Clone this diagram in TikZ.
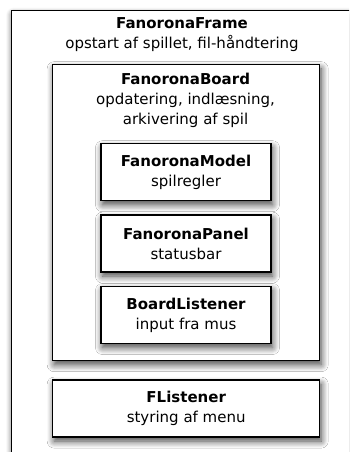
\documentclass[tikz,border=0pt]{standalone}
\usepackage{fontspec}
\setmainfont{DejaVu Sans}
\usetikzlibrary{positioning, shadows.blur}

\begin{document}
\begin{tikzpicture}[x=1pt, y=1pt,
    node distance=13pt,
    box/.style={rectangle, draw, line width=1.4pt, fill=white, align=center,
        blur shadow={shadow xshift=1.5pt, shadow yshift=-4pt, shadow blur radius=7pt, shadow opacity=75, shadow blur steps=10},
        font=\fontsize{15}{20}\selectfont},
    classbox/.style={box, minimum width=170pt, minimum height=57pt},
    title/.style={align=center, inner sep=0pt, font=\fontsize{15}{20}\selectfont}
]
    \useasboundingbox (0,0) rectangle (349,-452);
    \clip (0,0) rectangle (349,-452);

    % outer frame runs past the page
    \node[box, minimum width=342pt, minimum height=470pt, anchor=north west] (frame) at (11,-10) {};
    \node[title, anchor=north] (frametitle) at (182,-17) {\textbf{FanoronaFrame}\\opstart af spillet, fil-håndtering};

    \node[box, minimum width=267pt, minimum height=296pt, anchor=north west] (board) at (52,-64) {};
    \node[title, anchor=north] (boardtitle) at (185.5,-72.5) {\textbf{FanoronaBoard}\\opdatering, indlæsning,\\arkivering af spil};

    \node[classbox, anchor=north] (model) at (186,-143) {\textbf{FanoronaModel}\\spilregler};
    \node[classbox, below=of model] (panel) {\textbf{FanoronaPanel}\\statusbar};
    \node[classbox, below=of panel] (boardlis) {\textbf{BoardListener}\\input fra mus};

    \node[box, minimum width=267pt, minimum height=57pt, below=18pt of board] (flis) {\textbf{FListener}\\styring af menu};
\end{tikzpicture}
\end{document}
